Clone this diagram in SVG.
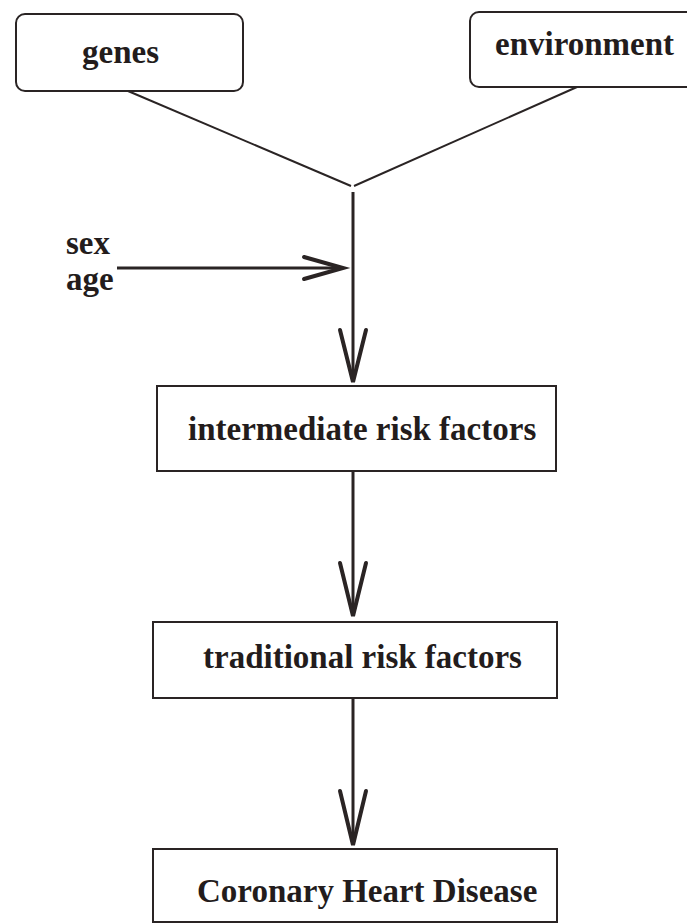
<svg xmlns="http://www.w3.org/2000/svg" width="687" height="924" viewBox="0 0 687 924">
<style>
.box{fill:#fff;stroke:#2a2424;stroke-width:2}
.lbl{font-family:"Liberation Serif","Times New Roman",serif;font-weight:bold;font-size:33px;fill:#231c1c}
.thin{fill:none;stroke:#2a2424;stroke-width:2}
.shaft{fill:none;stroke:#2a2424;stroke-width:3}
.head{fill:none;stroke:#2a2424;stroke-width:4;stroke-linejoin:miter;stroke-linecap:round}
</style>
<rect width="687" height="924" fill="#fff"/>
<g id="genes">
<rect class="box" x="16" y="14" width="227" height="77" rx="9"/>
<text class="lbl" x="82" y="63">genes</text>
</g>
<g id="environment">
<rect class="box" x="470" y="12" width="230" height="75" rx="9"/>
<text class="lbl" x="495" y="55">environment</text>
</g>
<g id="sexage">
<text class="lbl" x="66" y="254">sex</text>
<text class="lbl" x="66" y="290">age</text>
</g>
<g id="intermediate">
<rect class="box" x="157" y="386" width="399" height="85"/>
<text class="lbl" x="188" y="440">intermediate risk factors</text>
</g>
<g id="traditional">
<rect class="box" x="153" y="622" width="404" height="76"/>
<text class="lbl" x="203" y="668">traditional risk factors</text>
</g>
<g id="chd">
<rect class="box" x="153" y="849" width="404" height="73"/>
<text class="lbl" x="197" y="902">Coronary Heart Disease</text>
</g>
<g id="connectors">
<line class="thin" x1="128" y1="91" x2="351" y2="186"/>
<line class="thin" x1="577" y1="87" x2="354" y2="186"/>
<line class="shaft" x1="353" y1="192" x2="353" y2="381"/>
<polyline class="head" points="340,330 353,382 366,330"/>
<line class="shaft" x1="117" y1="268" x2="342" y2="268"/>
<polyline class="head" points="304,257 343,268 304,279"/>
<line class="shaft" x1="353" y1="471" x2="353" y2="615"/>
<polyline class="head" points="340,563 353,616 366,563"/>
<line class="shaft" x1="353" y1="698" x2="353" y2="844"/>
<polyline class="head" points="340,791 353,845 366,791"/>
</g>
</svg>
